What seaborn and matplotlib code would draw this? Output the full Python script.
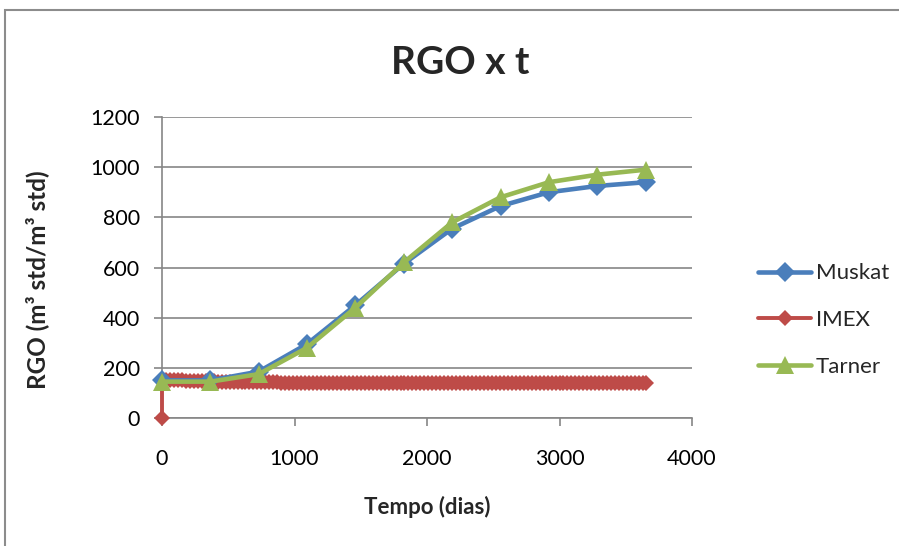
import numpy as np
import pandas as pd
import matplotlib
matplotlib.use("Agg")
import matplotlib.pyplot as plt
from matplotlib.patches import Rectangle
import seaborn as sns

# ---------------- data ----------------
t_main = [0, 365, 730, 1095, 1460, 1825, 2190, 2555, 2920, 3285, 3650]
muskat = [150, 150, 185, 295, 450, 615, 755, 845, 900, 925, 940]
tarner = [145, 145, 175, 280, 440, 620, 780, 880, 940, 970, 990]

t_imex = [0, 0, 30, 60, 90, 120, 150, 180, 210, 240, 270, 300, 330, 360, 390, 420,
          450, 480, 510, 540, 570, 600, 630, 660, 690, 720, 750, 780, 810, 840,
          870, 900, 930, 960, 990, 1020, 1050, 1080, 1110, 1140, 1170, 1200, 1230,
          1260, 1290, 1320, 1350, 1380, 1410, 1440, 1470, 1500, 1530, 1560, 1590,
          1620, 1650, 1680, 1710, 1740, 1770, 1800, 1830, 1860, 1890, 1920, 1950,
          1980, 2010, 2040, 2070, 2100, 2130, 2160, 2190, 2220, 2250, 2280, 2310,
          2340, 2370, 2400, 2430, 2460, 2490, 2520, 2550, 2580, 2610, 2640, 2670,
          2700, 2730, 2760, 2790, 2820, 2850, 2880, 2910, 2940, 2970, 3000, 3030,
          3060, 3090, 3120, 3150, 3180, 3210, 3240, 3270, 3300, 3330, 3360, 3390,
          3420, 3450, 3480, 3510, 3540, 3570, 3600, 3630, 3650]
imex = [0, 152, 152, 151, 151, 150, 150, 149, 149, 148, 148, 147, 147, 146, 146,
        145, 145, 145, 144, 144, 144, 143, 143, 143, 143, 142, 142, 142, 142, 142,
        142, 141, 141, 141, 141, 141, 141, 141, 141, 141, 141, 141, 141, 141, 141,
        141, 141, 141, 141, 141, 141, 141, 141, 141, 141, 141, 141, 141, 141, 141,
        141, 141, 141, 141, 141, 141, 141, 141, 141, 141, 141, 141, 141, 141, 141,
        141, 141, 141, 141, 141, 141, 141, 141, 141, 141, 141, 141, 141, 141, 141,
        141, 141, 141, 141, 141, 141, 141, 141, 141, 141, 141, 141, 141, 141, 141,
        141, 141, 141, 141, 141, 141, 141, 141, 141, 141, 141, 141, 141, 141, 141,
        141, 141, 141, 141]

x_ticks = [0, 1000, 2000, 3000, 4000]
y_ticks = [0, 200, 400, 600, 800, 1000, 1200]

df_m = pd.DataFrame({"t": t_main, "v": muskat})
df_t = pd.DataFrame({"t": t_main, "v": tarner})
df_i = pd.DataFrame({"t": t_imex, "v": imex})

# ---------------- style ----------------
sns.set_theme(style="white")
plt.rcParams["font.family"] = ["Lato", "DejaVu Sans"]

c_blue = "#4A7EBB"
c_red = "#BE4B48"
c_green = "#98B954"
c_gray = "#868686"

fig = plt.figure(figsize=(8.99, 5.46), dpi=100)
ax = fig.add_axes([162/899, 1-418/546, (692-162)/899, (418-117)/546])

sns.lineplot(data=df_i, x="t", y="v", ax=ax, color=c_red, lw=2.8, marker="D",
             markersize=8.5, markeredgewidth=0, estimator=None, sort=False,
             label="IMEX", zorder=3, clip_on=False)
sns.lineplot(data=df_m, x="t", y="v", ax=ax, color=c_blue, lw=3.3, marker="D",
             markersize=10, markeredgewidth=0, estimator=None, sort=False,
             label="Muskat", zorder=4, clip_on=False)
sns.lineplot(data=df_t, x="t", y="v", ax=ax, color=c_green, lw=3.3, marker="^",
             markersize=13, markeredgewidth=0, estimator=None, sort=False,
             label="Tarner", zorder=5, clip_on=False)

ax.set_xlim(0, 4000)
ax.set_ylim(0, 1200)
ax.set_xticks(x_ticks)
ax.set_yticks(y_ticks)
ax.yaxis.grid(True, color=c_gray, lw=1.2)
ax.set_axisbelow(True)
for s in ["top", "right"]:
    ax.spines[s].set_visible(False)
for s in ["left", "bottom"]:
    ax.spines[s].set_color(c_gray)
    ax.spines[s].set_linewidth(1.2)
ax.tick_params(axis="both", which="major", direction="out", length=6, width=1.2,
               color=c_gray, labelsize=15.5, labelcolor="black",
               bottom=True, left=True)
ax.tick_params(axis="y", pad=10)
ax.tick_params(axis="x", pad=16)

ax.set_xlabel("")
ax.set_ylabel("")
fig.text(427/899, 1-507/546, "Tempo (dias)", ha="center", va="center",
         fontsize=16, fontweight="bold")
fig.text(37/899, 1-280/546, "RGO (m³ std/m³ std)", ha="center", va="center",
         rotation=90, fontsize=17.5, fontweight="bold")
fig.text(460/899, 1-62/546, "RGO x t", ha="center", va="center",
         fontsize=28, fontweight="bold")

handles, labels = ax.get_legend_handles_labels()
order = [labels.index(n) for n in ["Muskat", "IMEX", "Tarner"]]
leg = ax.legend([handles[i] for i in order], [labels[i] for i in order],
                loc="center left", bbox_to_anchor=(738/899, 1-320/546),
                bbox_transform=fig.transFigure, frameon=False, fontsize=16,
                handlelength=2.4, labelspacing=1.2, handletextpad=0.2)

fig.patches.append(Rectangle((5/899, -0.1), 2.0, 1.1 - 10/546,
                             transform=fig.transFigure, fill=False,
                             edgecolor="#8c8c8c", lw=1.5))

fig.savefig("out.png", dpi=100, facecolor="white")
